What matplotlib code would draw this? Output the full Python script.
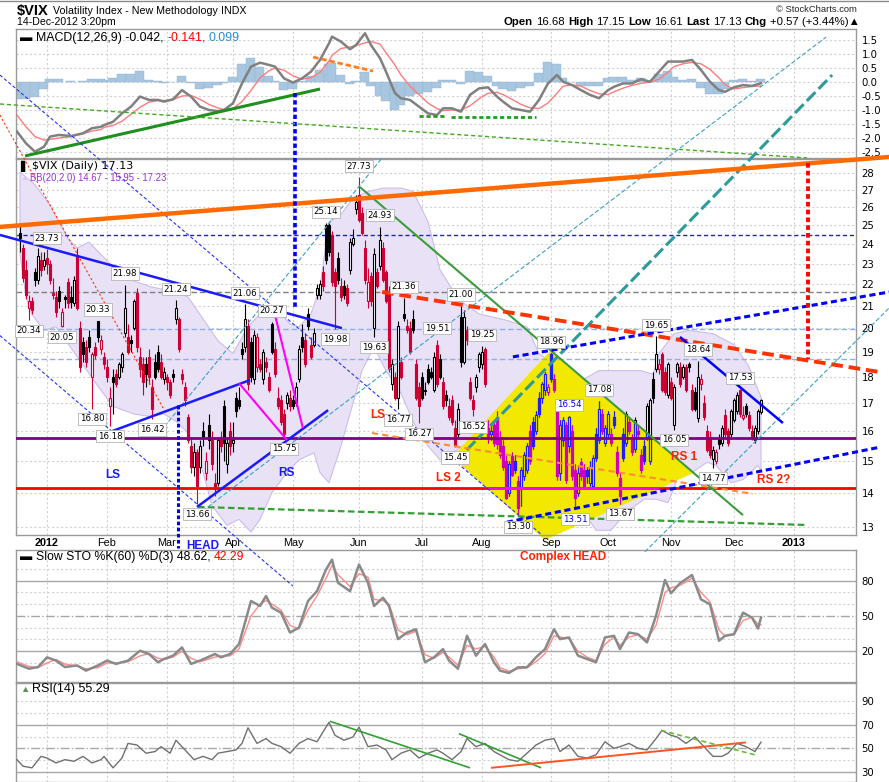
import numpy as np
import matplotlib
matplotlib.use("Agg")
import matplotlib.pyplot as plt
from matplotlib import font_manager
from matplotlib.patches import Polygon
from matplotlib.lines import Line2D
from matplotlib.ticker import NullLocator, NullFormatter

# ---------------- DATA ----------------
# trading-day index: 0 = 3 Jan 2012 ; -9 = 19 Dec 2011 ; 238 = 14 Dec 2012
first_day = -9
opens = [24.6, 23.8, 22.7, 20.9, 21.2, 22.6, 22.2, 23.2, 22.9, 23.3,
         23.0, 21.6, 21.4, 21.7, 20.1, 21.4, 22.1, 21.4, 21.1, 23.4,
         20.0, 19.4, 19.2, 19.6, 18.0, 19.2, 20.3, 19.1, 18.8, 18.4,
         16.9, 18.0, 18.1, 18.0, 18.4, 19.8, 19.6, 19.5, 20.0, 21.6,
         18.8, 18.5, 18.5, 18.8, 17.6, 18.6, 19.0, 18.6, 17.9, 18.0,
         17.8, 18.1, 20.4, 20.4, 18.1, 17.6, 16.5, 15.5, 14.8, 15.3,
         14.8, 16.0, 14.6, 16.2, 15.7, 14.3, 14.3, 15.8, 16.9, 14.9,
         16.0, 15.6, 17.2, 17.1, 19.1, 19.2, 20.1, 19.4, 17.9, 18.4,
         18.5, 17.9, 18.6, 18.0, 20.2, 19.1, 17.2, 17.1, 16.6, 17.0,
         17.2, 17.1, 17.0, 17.9, 19.6, 19.5, 20.6, 19.3, 19.3, 21.5,
         21.5, 22.6, 25.0, 25.0, 24.5, 22.6, 23.3, 21.9, 21.9, 21.8,
         22.7, 24.0, 25.9, 26.7, 25.7, 23.8, 21.2, 22.4, 20.0, 22.6,
         22.9, 23.8, 22.6, 21.7, 17.7, 18.0, 17.2, 18.6, 20.6, 20.1,
         20.0, 20.4, 18.5, 17.6, 18.0, 17.5, 18.3, 18.2, 17.5, 19.3,
         18.7, 17.8, 17.3, 16.9, 17.1, 16.1, 15.9, 20.5, 18.6, 19.9,
         17.8, 17.1, 17.6, 18.4, 18.5, 19.1, 16.1, 15.9, 16.2, 16.5,
         15.8, 15.5, 15.0, 14.0, 15.15, 15.0, 14.35, 14.1, 14.5, 14.7,
         16.0, 16.3, 16.0, 17.2, 17.2, 17.5, 17.4, 18.9, 17.9, 16.8,
         14.6, 15.7, 16.2, 15.5, 16.0, 14.7, 14.0, 14.95, 14.7, 14.7,
         14.3, 14.2, 15.9, 15.7, 16.6, 15.6, 15.9, 15.9, 16.5, 15.3,
         14.45, 15.9, 15.6, 16.3, 15.7, 15.4, 16.0, 15.2, 15.5, 15.8,
         15.0, 17.9, 18.3, 18.3, 18.9, 18.2, 17.3, 17.8, 16.2, 18.2,
         18.4, 18.0, 18.4, 18.5, 17.5, 17.4, 16.45, 17.7, 17.0, 16.0,
         15.8, 15.05, 15.0, 15.75, 15.6, 16.55, 16.0, 15.9, 16.4, 16.7,
         17.5, 16.45, 16.9, 16.55, 16.0, 15.7, 16.0, 16.68]
highs = [25.1, 24.0, 23.2, 21.5, 21.4, 22.8, 23.8, 23.6, 23.6, 23.73,
         23.2, 22.3, 21.7, 21.9, 20.9, 21.5, 22.3, 21.9, 22.4, 23.8,
         20.3, 19.6, 19.5, 19.9, 19.0, 19.4, 20.33, 19.7, 19.0, 18.7,
         17.6, 18.3, 18.3, 18.6, 19.0, 21.98, 20.2, 19.7, 21.3, 21.8,
         19.2, 18.8, 18.8, 19.1, 17.9, 18.9, 19.3, 18.9, 18.4, 18.1,
         17.9, 18.3, 21.24, 20.5, 18.3, 17.8, 16.6, 15.8, 15.6, 15.4,
         15.7, 16.3, 15.3, 16.6, 16.0, 14.6, 15.8, 16.0, 17.1, 15.8,
         16.3, 16.3, 17.4, 17.6, 19.4, 21.06, 20.4, 19.6, 19.9, 19.8,
         18.7, 19.1, 18.8, 18.2, 20.27, 19.4, 17.6, 17.3, 16.8, 17.4,
         17.5, 17.3, 17.8, 19.3, 20.2, 19.8, 20.9, 19.6, 20.0, 22.0,
         22.2, 22.9, 25.14, 25.1, 24.7, 22.8, 23.6, 22.3, 22.2, 22.0,
         24.3, 24.8, 26.7, 27.73, 26.0, 24.2, 22.8, 22.6, 23.8, 22.8,
         24.93, 24.1, 22.7, 21.9, 18.7, 18.2, 20.3, 18.8, 21.36, 20.4,
         20.3, 20.8, 18.7, 17.8, 18.2, 17.8, 18.5, 18.4, 19.0, 19.51,
         18.9, 18.0, 17.5, 17.2, 17.3, 16.4, 17.0, 21.0, 20.8, 20.1,
         18.0, 17.3, 18.1, 19.0, 19.25, 19.2, 16.4, 16.2, 16.4, 16.7,
         16.0, 15.7, 15.2, 15.0, 15.3, 15.2, 14.5, 14.8, 15.3, 15.6,
         16.2, 16.5, 16.7, 17.4, 17.8, 18.2, 17.7, 18.96, 18.1, 17.0,
         16.4, 16.5, 16.3, 16.54, 16.2, 14.9, 14.8, 15.1, 14.9, 14.8,
         15.0, 15.2, 16.1, 17.08, 16.8, 16.2, 16.7, 16.1, 16.7, 15.5,
         14.6, 16.1, 16.7, 16.5, 15.9, 16.5, 16.2, 15.4, 15.7, 17.0,
         17.2, 18.2, 19.65, 18.7, 19.0, 18.4, 18.6, 18.0, 17.7, 18.6,
         18.6, 18.5, 18.5, 18.6, 17.7, 17.6, 18.64, 18.1, 17.3, 16.2,
         16.0, 15.5, 15.4, 15.9, 16.2, 16.8, 16.1, 16.8, 17.2, 17.4,
         17.53, 16.9, 17.0, 16.7, 16.2, 16.2, 16.8, 17.15]
lows = [23.6, 22.1, 21.3, 20.34, 20.6, 21.9, 22.0, 22.4, 22.7, 22.5,
        22.0, 21.3, 20.5, 20.9, 20.05, 20.9, 20.9, 20.9, 21.0, 20.8,
        18.2, 18.6, 18.4, 19.0, 16.80, 18.7, 19.4, 18.9, 18.3, 17.8,
        16.18, 16.6, 17.6, 17.9, 18.2, 19.6, 18.9, 19.0, 19.9, 19.0,
        18.0, 17.3, 17.6, 17.7, 16.42, 17.9, 18.2, 17.9, 17.7, 17.5,
        17.2, 17.8, 20.2, 19.0, 17.7, 16.9, 15.6, 14.6, 14.5, 13.66,
        14.6, 15.5, 14.4, 15.4, 14.7, 13.9, 14.2, 15.3, 15.0, 14.6,
        15.2, 15.3, 16.5, 16.8, 18.7, 19.0, 17.5, 17.8, 17.7, 18.2,
        18.2, 17.7, 18.2, 17.4, 18.9, 18.0, 16.8, 16.2, 15.75, 16.8,
        16.7, 16.8, 16.9, 17.8, 19.0, 18.4, 19.9, 18.7, 19.2, 21.3,
        21.3, 21.7, 23.0, 23.4, 21.9, 19.98, 22.0, 21.2, 21.3, 21.0,
        22.5, 23.9, 25.6, 25.2, 24.5, 22.0, 20.9, 21.0, 19.63, 21.8,
        22.7, 22.1, 21.1, 18.2, 17.5, 17.1, 16.77, 17.9, 20.3, 19.8,
        18.9, 19.8, 17.1, 16.27, 17.1, 17.3, 17.7, 17.9, 17.4, 17.6,
        17.9, 16.8, 16.9, 16.4, 16.2, 15.45, 15.8, 18.4, 18.5, 19.3,
        17.1, 16.52, 17.4, 18.2, 18.3, 17.6, 15.6, 15.7, 15.5, 15.4,
        15.1, 14.7, 13.8, 13.9, 14.5, 14.6, 13.30, 13.6, 14.4, 14.6,
        14.9, 15.4, 15.9, 16.5, 17.0, 17.3, 17.3, 17.8, 17.4, 14.4,
        14.4, 15.5, 14.3, 15.3, 14.4, 13.51, 13.9, 14.4, 14.1, 14.3,
        14.2, 14.1, 15.0, 15.6, 15.9, 15.5, 15.8, 15.5, 16.1, 14.5,
        13.67, 15.0, 15.5, 15.9, 15.2, 15.3, 15.8, 14.6, 14.9, 15.7,
        14.9, 17.0, 18.2, 18.1, 17.4, 17.3, 17.2, 17.1, 16.05, 18.0,
        17.6, 17.9, 17.4, 18.2, 16.7, 16.7, 16.3, 17.5, 16.4, 15.3,
        15.1, 14.77, 14.9, 15.4, 15.5, 15.8, 15.5, 15.8, 16.3, 16.6,
        16.5, 16.4, 16.5, 16.0, 15.7, 15.6, 15.9, 16.61]
closes = [24.3, 22.3, 21.5, 21.2, 20.8, 22.2, 23.4, 22.7, 23.2, 22.97,
          22.2, 21.5, 20.7, 21.2, 20.7, 21.3, 21.1, 21.15, 22.2, 20.9,
          18.4, 18.9, 18.6, 19.2, 18.9, 18.85, 19.6, 19.5, 18.5, 18.0,
          17.2, 17.8, 17.7, 18.5, 18.9, 20.9, 19.0, 19.35, 21.2, 19.2,
          18.3, 17.8, 18.1, 18.0, 16.8, 18.0, 18.3, 18.0, 18.2, 17.8,
          17.3, 18.0, 20.9, 19.1, 17.9, 17.1, 15.7, 14.8, 15.3, 14.2,
          15.5, 15.75, 15.0, 15.7, 14.9, 14.1, 15.7, 15.5, 15.6, 15.6,
          15.5, 15.7, 16.7, 16.9, 18.9, 20.4, 17.7, 18.0, 19.7, 19.6,
          18.3, 19.0, 18.4, 17.5, 19.0, 18.1, 16.9, 16.3, 15.9, 17.3,
          16.9, 16.9, 17.6, 19.1, 19.2, 18.5, 20.1, 18.8, 19.8, 21.8,
          22.0, 21.9, 23.2, 23.6, 22.1, 21.9, 22.2, 21.4, 21.5, 21.1,
          24.1, 24.3, 26.3, 25.3, 24.6, 22.2, 22.1, 21.2, 23.5, 21.9,
          24.2, 22.2, 21.2, 18.3, 18.5, 17.2, 20.1, 18.0, 20.45, 19.9,
          19.0, 19.9, 17.2, 16.9, 17.2, 17.45, 17.8, 18.0, 18.8, 17.7,
          18.0, 16.9, 17.1, 16.5, 16.3, 15.5, 16.8, 18.6, 20.5, 19.5,
          17.2, 16.8, 18.0, 18.9, 19.0, 17.7, 15.75, 16.0, 15.6, 15.55,
          15.2, 14.8, 13.85, 14.9, 14.55, 14.7, 13.55, 14.7, 15.2, 15.5,
          15.0, 15.5, 16.55, 16.6, 17.7, 18.1, 17.6, 17.9, 17.5, 14.5,
          16.2, 16.4, 14.4, 16.5, 14.5, 13.85, 14.6, 14.5, 14.2, 14.5,
          14.8, 15.1, 15.1, 16.8, 16.0, 16.1, 16.6, 15.6, 16.2, 14.6,
          13.9, 15.1, 16.6, 16.0, 15.3, 16.4, 15.9, 14.7, 15.0, 16.9,
          17.1, 17.2, 18.9, 18.5, 17.5, 17.4, 18.5, 17.2, 17.6, 18.5,
          17.7, 18.4, 17.5, 18.4, 16.8, 16.8, 18.0, 17.9, 16.5, 15.35,
          15.2, 15.35, 15.3, 15.55, 16.1, 15.9, 15.6, 16.7, 17.1, 17.3,
          16.6, 16.55, 16.6, 16.1, 15.8, 16.1, 16.7, 17.13]

# Bollinger band (20,2) envelope
bb_up_days = [-9, -4, 1, 7, 10, 14, 21, 29, 35, 42, 47, 51, 57, 62, 67, 71, 77, 81, 84, 88,
              91, 94, 98, 102, 107, 112, 118, 122, 127, 131, 134, 138, 144, 153, 160, 164, 170, 178, 184, 191,
              198, 202, 204, 209, 214, 222, 229, 234, 237, 238]
bb_up = [28.06, 27.3, 26.1, 24.3, 23.8, 24.1, 23.0, 22.15, 21.86, 21.67, 21.4, 20.6, 19.46, 18.93, 20.06, 20.63, 20.77, 20.18, 20.06, 20.63,
         21.86, 25.2, 25.58, 26.54, 26.89, 27.1, 27.1, 26.9, 25.2, 22.7, 22.0, 21.2, 20.63, 20.35, 20.06, 18.93, 18.4, 17.85, 18.24, 18.24,
         18.24, 18.1, 18.93, 19.76, 19.9, 19.76, 19.3, 18.4, 17.5, 17.23]
bb_lo_days = [-9, -7, -5, -1, 3, 11, 17, 22, 29, 34, 39, 43, 47, 51, 55, 60, 64, 68, 71, 75,
              80, 84, 89, 91, 94, 98, 102, 105, 109, 113, 118, 122, 127, 131, 135, 142, 148, 152, 155, 160,
              164, 169, 173, 179, 183, 188, 193, 199, 203, 207, 211, 215, 220, 223, 228, 232, 237, 238]
bb_lo = [23.47, 21.4, 20.6, 19.9, 20.06, 18.64, 17.63, 16.88, 16.6, 16.52, 16.6, 16.34, 15.93, 14.98, 13.61, 13.04, 13.21, 12.85, 13.21, 14.0,
         14.62, 15.03, 15.26, 14.62, 14.3, 15.49, 17.0, 18.24, 19.2, 18.24, 17.37, 16.34, 15.49, 15.03, 15.26, 15.7, 15.49, 14.62, 13.61, 13.12,
         12.85, 13.21, 13.61, 13.4, 12.9, 12.9, 13.4, 13.8, 13.8, 13.7, 14.62, 14.62, 14.95, 14.85, 14.3, 14.4, 14.85, 14.67]

# MACD(12,26,9)
macd_days = [-10, -7, -4, -1, 1, 4, 8, 12, 15, 18, 19, 22, 25, 28, 31, 34, 37, 39, 42, 45,
             48, 51, 54, 57, 59, 62, 65, 68, 71, 74, 76, 79, 82, 85, 88, 91, 94, 95, 98, 101,
             103, 106, 108, 111, 113, 116, 118, 121, 124, 127, 130, 132, 135, 138, 141, 144, 147, 150, 152, 155,
             158, 161, 164, 167, 170, 172, 175, 178, 181, 184, 187, 189, 192, 195, 198, 201, 204, 207, 209, 212,
             215, 218, 221, 224, 226, 229, 232, 235, 238]
macd_line = [-1.77, -2.19, -2.49, -2.31, -1.95, -1.89, -1.93, -1.83, -1.65, -1.60,
             -1.54, -1.42, -1.12, -0.88, -0.52, -0.64, -0.64, -0.70, -0.62, -0.29,
             -0.52, -0.88, -1.00, -1.04, -1.00, -0.76, -0.05, 0.55, 0.69, 0.61,
             0.55, 0.13, -0.02, 0.13, 0.37, 0.79, 1.38, 1.62, 1.44, 1.17,
             1.32, 1.74, 1.32, 0.85, 0.37, -0.40, -0.58, -0.64, -0.88, -1.12,
             -1.18, -0.94, -0.94, -1.06, -0.46, -0.23, -0.19, -0.52, -0.70, -0.94,
             -1.00, -1.06, -0.64, -0.05, 0.25, 0.01, -0.11, -0.29, -0.46, -0.58,
             -0.29, -0.17, -0.05, -0.05, 0.10, 0.01, 0.37, 0.73, 0.73, 0.73,
             0.79, 0.43, 0.01, -0.29, -0.35, -0.19, -0.11, -0.14, -0.042]
macd_signal = [-1.18, -1.60, -1.95, -2.07, -2.05, -2.00, -1.95, -1.85, -1.75, -1.70,
               -1.62, -1.55, -1.40, -1.15, -0.90, -0.72, -0.66, -0.66, -0.63, -0.50,
               -0.48, -0.62, -0.80, -0.93, -0.98, -0.95, -0.70, -0.30, 0.15, 0.40,
               0.50, 0.42, 0.22, 0.10, 0.15, 0.35, 0.75, 0.95, 1.20, 1.25,
               1.30, 1.40, 1.45, 1.35, 1.05, 0.60, 0.25, -0.15, -0.45, -0.75,
               -0.95, -1.02, -1.00, -1.00, -0.85, -0.60, -0.40, -0.37, -0.45, -0.62,
               -0.80, -0.92, -0.95, -0.75, -0.40, -0.15, -0.10, -0.15, -0.30, -0.42,
               -0.45, -0.35, -0.22, -0.12, -0.05, 0.00, 0.10, 0.35, 0.55, 0.65,
               0.70, 0.65, 0.45, 0.15, -0.10, -0.25, -0.20, -0.16, -0.141]

# Slow STO %K(60) %D(3)
sto_days = [-10, -6, -3, 0, 3, 6, 10, 13, 17, 20, 23, 27, 31, 34, 37, 39, 42, 45, 48, 51,
            56, 58, 61, 64, 68, 71, 73, 75, 78, 81, 84, 87, 90, 93, 95, 97, 101, 104, 107, 109,
            112, 114, 117, 120, 123, 126, 129, 132, 134, 137, 140, 143, 146, 149, 151, 154, 157, 160, 163, 166,
            169, 171, 174, 177, 180, 183, 186, 189, 191, 194, 197, 200, 203, 206, 208, 211, 215, 218, 221, 224,
            226, 229, 232, 235, 237, 238]
sto_k = [9.2, 5.1, 6.5, 14.8, 12.0, 6.5, 7.9, 3.5, 7.9, 12.0, 9.2, 12.0, 20.4, 17.6, 10.6, 13.4, 16.2, 23.2, 9.2, 12.0,
         17.6, 14.8, 17.6, 26.1, 62.7, 58.5, 66.9, 57.0, 52.8, 35.9, 40.1, 62.7, 71.1, 89.4, 97.9, 78.2, 71.1, 93.7, 78.2, 58.5,
         65.5, 58.5, 30.3, 35.9, 38.7, 10.6, 14.8, 21.8, 12.0, 5.1, 33.1, 16.2, 26.1, 10.6, 3.5, 1.5, 6.3, 6.3, 14.8, 21.8,
         38.7, 30.3, 31.7, 16.2, 13.4, 10.6, 31.7, 33.1, 21.8, 35.9, 34.5, 27.5, 50.0, 80.6, 69.3, 77.8, 84.8, 64.1, 59.9, 28.9,
         33.1, 34.5, 52.8, 48.6, 39.3, 48.62]
sto_d = [11, 7, 6, 10, 13, 9, 7.5, 5, 6, 10, 10, 11, 16, 18, 14, 13, 15, 20, 14, 11,
         15, 16, 16, 22, 50, 60, 63, 60, 55, 42, 39, 55, 67, 82, 93, 85, 75, 86, 83, 64,
         63, 60, 38, 34, 37, 17, 14, 19, 15, 8, 25, 22, 24, 15, 6, 3, 5, 6, 11, 18,
         33, 32, 31, 20, 15, 12, 26, 32, 25, 32, 34, 30, 42, 70, 74, 76, 82, 70, 62, 38,
         33, 34, 46, 49, 43, 42.29]

# RSI(14)
rsi_days = [-10, -8, -5, -2, 0, 3, 6, 9, 12, 15, 18, 19, 22, 25, 27, 30, 33, 36, 38, 41,
            43, 46, 49, 52, 55, 57, 60, 63, 65, 67, 70, 73, 75, 78, 81, 84, 87, 90, 93, 94,
            96, 99, 102, 104, 107, 110, 113, 115, 118, 121, 124, 127, 130, 132, 135, 138, 140, 143, 146, 149,
            151, 154, 157, 160, 163, 166, 169, 171, 174, 177, 180, 183, 186, 189, 191, 194, 197, 200, 203, 205,
            208, 210, 213, 216, 219, 222, 225, 227, 230, 233, 236, 238]
rsi_vals = [40.3, 34.7, 33.3, 43.1, 41.7, 37.5, 40.3, 38.9, 43.1, 37.5, 40.3, 43.1, 33.3, 41.7, 54.2, 52.8, 45.8, 47.2, 51.4, 45.8,
            56.9, 48.6, 40.3, 43.1, 40.3, 45.8, 47.2, 48.6, 54.2, 67.5, 54.2, 58.3, 54.2, 51.4, 45.8, 54.2, 58.3, 55.6, 68.1, 72.2,
            61.1, 56.9, 59.7, 68.1, 51.4, 52.8, 48.6, 40.3, 45.8, 48.6, 41.7, 45.8, 48.6, 45.8, 40.3, 47.2, 58.3, 51.4, 54.2, 47.2,
            44.4, 40.3, 38.9, 45.8, 52.8, 56.9, 58.3, 47.2, 52.8, 43.1, 41.7, 44.4, 55.6, 50.0, 51.4, 54.2, 50.0, 48.6, 58.3, 65.3,
            61.1, 59.7, 54.2, 59.7, 51.4, 43.1, 43.1, 45.8, 54.2, 51.4, 47.2, 55.29]

# swing high / low value labels
label_days = [0, -6, 5, 26, 17, 43, 15, 21, 35, 50, 66, 75, 79, 96, 93, 104, 111, 109, 119,
              117, 124, 130, 138, 145, 142, 136, 168, 174, 184, 157, 176, 191, 203, 217, 209, 231, 222]
label_vals = [23.73, 20.34, 20.05, 21.98, 20.33, 21.24, 16.80, 16.18, 16.42, 13.66, 21.06, 20.27, 15.75, 19.98,
              25.14, 27.73, 24.93, 19.63, 21.36, 16.77, 16.27, 19.51, 21.00, 19.25, 16.52, 15.45, 18.96, 16.54,
              17.08, 13.30, 13.51, 13.67, 19.65, 18.64, 16.05, 17.53, 14.77]
label_high = [1, 0, 0, 1, 1, 1, 0, 0, 0, 0, 1, 1, 0, 0, 1, 1, 1, 0, 1,
              0, 0, 1, 1, 1, 0, 0, 1, 1, 1, 0, 0, 0, 1, 1, 0, 1, 0]

# horizontal levels drawn on the price panel
level_blue = 24.5
level_gray = 21.63
level_ltblue = [19.95, 18.72]
level_purple = 15.75
level_red = 14.14

# hand-drawn trend lines (day index, price)
orange_top = ([-15.7, 280.7], [24.91, 28.99])
neckline = ([-15.7, 98.3], [24.48, 20.0])
ls_rise = ([20.0, 67.7], [15.93, 17.87])
rs_rise = ([50.0, 93.7], [13.57, 16.74])
pink1 = ([64.0, 80.0], [17.75, 15.69])
pink2 = ([76.0, 85.3], [20.58, 16.10])
red_dash = ([111.7, 277.7], [21.63, 18.18])
green_fall = ([104.3, 232.0], [27.16, 13.33])
green_dash_hi = ([-15.7, 253.3], [32.52, 28.93])
green_dash_lo = ([50.3, 253.3], [13.57, 13.05])
blue_thin_a = ([-15.7, 165.0], [34.63, 12.77])
blue_thin_b = ([-15.7, 82.0], [19.68, 11.43])
red_thin = ([-15.7, 38.7], [31.75, 16.82])
teal_a = ([37.7, 111.7], [15.97, 28.93])
teal_b = ([50.0, 259.7], [13.33, 37.6])
teal_thick = ([136.0, 261.7], [14.96, 34.63])
teal_c = ([199.3, 280.7], [12.31, 20.89])
blue_dot_hi = ([155.3, 280.7], [18.79, 21.63])
blue_dot_lo = ([153.3, 277.7], [13.13, 15.45])
blue_fall = ([211.0, 245.3], [19.62, 16.28])
orange_dash = ([108.3, 235.3], [15.93, 13.96])
target_line = ([253.7, 253.7], [28.6, 18.7])
head_line = ([43.7, 43.7], [16.93, 12.41])
marker_day = 82.7
marker_price = [28.9, 20.9]
marker_macd = [-0.39, -2.72]
yellow_days = [135.0, 167.7, 215.3, 166.0]
yellow_prices = [15.12, 19.03, 14.6, 12.63]

macd_green = ([-7.3, 91.0], [-2.64, -0.25])
macd_orange = ([88.7, 108.7], [0.89, 0.39])
macd_dot1 = ([124.0, 133.0], [-1.21, -1.21])
macd_dot2 = ([134.7, 163.0], [-1.26, -1.26])

rsi_green1 = ([94.3, 141.0], [73.1, 33.3])
rsi_green2 = ([137.3, 164.7], [62.5, 33.3])
rsi_red = ([148.0, 233.0], [33.3, 55.0])
rsi_green_dash = ([204.7, 236.0], [65.3, 44.4])

month_days = [0, 20, 40, 62, 82, 104, 125, 145, 168, 187, 208, 229, 249]
month_names = ['2012', 'Feb', 'Mar', 'Apr', 'May', 'Jun', 'Jul', 'Aug', 'Sep', 'Oct', 'Nov', 'Dec', '2013']

# ---------------- FIGURE ----------------
names = {f.name for f in font_manager.fontManager.ttflist}
NARROW = 'Liberation Sans Narrow' if 'Liberation Sans Narrow' in names else 'Liberation Sans'
SANS = 'Liberation Sans' if 'Liberation Sans' in names else 'DejaVu Sans'
plt.rcParams['font.family'] = ['DejaVu Sans']

W, H = 889, 782
fig = plt.figure(figsize=(W / 100, H / 100), dpi=100)
fig.patch.set_facecolor('white')


def rect(top, bottom):
    return [16 / W, 1 - bottom / H, 840 / W, (bottom - top) / H]


ax_macd = fig.add_axes(rect(29, 158))
ax = fig.add_axes(rect(159, 535))
ax_sto = fig.add_axes(rect(550, 682))
ax_rsi = fig.add_axes(rect(683, 782))
ax.set_zorder(10)

XL = (-10.333, 269.667)
GRID = dict(color='#d2d2d2', ls=(0, (2, 2)), lw=0.8, zorder=0.5)
for a in (ax_macd, ax, ax_sto, ax_rsi):
    a.set_xlim(*XL)
    for s in a.spines.values():
        s.set_color('#9a9a9a')
        s.set_linewidth(1.0)
    for d in month_days:
        a.axvline(d, **GRID)
    a.yaxis.tick_right()
    a.tick_params(axis='both', length=0, labelsize=7.3, pad=4)
    if a is not ax:
        a.set_xticks([])

# ---- price panel ----
days = np.arange(first_day, first_day + len(closes))
o = np.array(opens); h = np.array(highs); lo = np.array(lows); c = np.array(closes)
prev = np.concatenate([[c[0]], c[:-1]])
up = c >= prev
hollow = c >= o
col = np.where(up, '#000000', '#cc0033')
face = np.where(hollow, '#ffffff', col)
bottoms = np.minimum(o, c)
heights = np.maximum(np.abs(c - o), 0.03)

ax.set_yscale('log')
ax.set_ylim(12.769, 28.863)

ax.fill(np.concatenate([bb_up_days, bb_lo_days[::-1]]),
        np.concatenate([bb_up, bb_lo[::-1]]),
        facecolor='#e9e1f6', edgecolor='#cdbdea', lw=0.8, zorder=1)

ypoly = Polygon(np.column_stack([yellow_days, yellow_prices]), closed=True,
                facecolor='#f2e800', edgecolor='none', zorder=1.2, clip_on=False)
ax.add_patch(ypoly)

for p in range(13, 29):
    ax.axhline(p, **GRID)

ax.axhline(level_blue, color='#1a1aff', ls=(0, (3, 2)), lw=1.0, zorder=2)
ax.axhline(level_gray, color='#808080', ls=(0, (4, 2)), lw=1.0, zorder=2)
for lv in level_ltblue:
    ax.axhline(lv, color='#8fb0f0', ls=(0, (4, 2)), lw=1.0, zorder=2)

BW = 0.85
ax.vlines(days, lo, h, colors=col, lw=0.8, zorder=3)
ax.bar(days, heights, bottom=bottoms, width=BW, color=face, edgecolor=col, linewidth=0.8, zorder=4)

coly = np.where(up, '#1f1fff', '#d000c0')
facey = np.where(hollow, '#f2e800', coly)
vl2 = ax.vlines(days, lo, h, colors=coly, lw=0.8, zorder=4.5)
vl2.set_clip_path(ypoly)
bars2 = ax.bar(days, heights, bottom=bottoms, width=BW, color=facey, edgecolor=coly, linewidth=0.8, zorder=4.6)
for b in bars2:
    b.set_clip_path(ypoly)

ax.axhline(level_purple, color='#800080', lw=2.0, zorder=5)
ax.axhline(level_red, color='#ff0000', lw=2.0, zorder=5)
mag = ax.axhline(level_red, color='#ff00ff', lw=2.0, zorder=5.1)
mag.set_clip_path(ypoly)


def tl(a, line, color, lw, ls='-', z=6):
    a.plot(line[0], line[1], color=color, lw=lw, ls=ls, zorder=z, clip_on=False,
           solid_capstyle='butt', dash_capstyle='butt')


tl(ax, blue_thin_a, '#2233ff', 0.8, (0, (3, 2)))
tl(ax, blue_thin_b, '#2233ff', 0.8, (0, (3, 2)))
tl(ax, red_thin, '#ff3300', 0.8, (0, (2, 2)))
tl(ax, green_dash_hi, '#44aa22', 1.0, (0, (3, 2)))
tl(ax, green_dash_lo, '#33a033', 1.6, (0, (3, 1.5)))
tl(ax, teal_a, '#3aa0c8', 0.8, (0, (4, 2)))
tl(ax, teal_b, '#3aa0c8', 0.8, (0, (4, 2)))
tl(ax, teal_c, '#3aa0c8', 0.8, (0, (4, 2)))
tl(ax, teal_thick, '#2f9a9a', 2.2, (0, (4, 1.5)))
tl(ax, orange_dash, '#ff8c33', 1.5, (0, (3, 2)))
tl(ax, green_fall, '#3c9c3c', 1.5)
tl(ax, orange_top, '#ff6a00', 3.2)
tl(ax, neckline, '#1a1aff', 1.8)
tl(ax, ls_rise, '#1a1aff', 1.8)
tl(ax, rs_rise, '#1a1aff', 1.8)
tl(ax, pink1, '#ff00ff', 1.5)
tl(ax, pink2, '#ff00ff', 1.5)
tl(ax, red_dash, '#ff3300', 2.8, (0, (3, 1.5)))
tl(ax, blue_dot_hi, '#0000ff', 2.2, (0, (2, 1.2)))
tl(ax, blue_dot_lo, '#0000ff', 2.2, (0, (2, 1.2)))
tl(ax, blue_fall, '#0000ff', 1.8)
tl(ax, target_line, '#ff0000', 2.8, (0, (1.2, 0.8)))
tl(ax, head_line, '#0000ff', 2.2, (0, (1.2, 0.8)))
tl(ax, ([marker_day, marker_day], marker_price), '#0000ff', 2.6, (0, (1.2, 0.8)))

for d, v, hi in zip(label_days, label_vals, label_high):
    tc = '#0000cc' if v in (16.54, 13.51) else '#000000'
    ax.annotate(f'{v:.2f}', xy=(d, v), xytext=(0, 8 if hi else -7.5), textcoords='offset points',
                ha='center', va='center', fontsize=6.2, color=tc, family='DejaVu Sans',
                bbox=dict(boxstyle='square,pad=0.18', fc='white', ec='#b4b4b4', lw=0.6),
                zorder=8, annotation_clip=False)

TXT = dict(fontweight='bold', fontsize=8.5, ha='center', va='center', zorder=9, family=[SANS, 'DejaVu Sans'])
ax.text(22, 14.54, 'LS', color='#1a1aff', **TXT)
ax.text(79.7, 14.6, 'RS', color='#1a1aff', **TXT)
ax.text(52, 12.46, 'HEAD', color='#1a1aff', clip_on=False, **TXT)
ax.text(110.3, 16.55, 'LS', color='#ff2200', **TXT)
ax.text(133.7, 14.46, 'LS 2', color='#ff2200', **TXT)
ax.text(212.3, 15.13, 'RS 1', color='#ff2200', **TXT)
ax.text(242.3, 14.4, 'RS 2?', color='#ff2200', **TXT)

ax.set_yticks(list(range(13, 29)))
ax.set_yticklabels([str(v) for v in range(13, 29)])
ax.yaxis.set_minor_locator(NullLocator())
ax.yaxis.set_minor_formatter(NullFormatter())
ax.set_xticks(month_days)
ax.set_xticklabels(month_names)
ax.tick_params(axis='x', pad=2.5, labelsize=7.8)
for t in ax.get_xticklabels():
    t.set_family([SANS, 'DejaVu Sans'])
    if t.get_text() in ('2012', '2013'):
        t.set_fontweight('bold')

# ---- MACD panel ----
md = np.array(macd_days, float)
hist = np.array(macd_line) - np.array(macd_signal)
ax_macd.set_ylim(-2.714, 1.893)
mt = [-2.5, -2.0, -1.5, -1.0, -0.5, 0.0, 0.5, 1.0, 1.5]
for v in mt:
    ax_macd.axhline(v, **GRID)
ax_macd.set_yticks(mt)
ax_macd.set_yticklabels([f'{v:.1f}' for v in mt])
ax_macd.bar(md, hist, width=3.0, color='#a8c6df', edgecolor='#93b6d5', linewidth=0.3, zorder=2)
ax_macd.plot(md, macd_signal, color='#ff7b7b', lw=1.0, zorder=3)
ax_macd.plot(md, macd_line, color='#808080', lw=1.8, zorder=4)
tl(ax_macd, macd_green, '#1f8f1f', 2.2)
tl(ax_macd, macd_orange, '#ff7f27', 2.0, (0, (2, 1)))
tl(ax_macd, macd_dot1, '#1f9f1f', 2.0, (0, (1.5, 1)))
tl(ax_macd, macd_dot2, '#1f9f1f', 2.0, (0, (1.5, 1)))
ax_macd.plot([marker_day, marker_day], marker_macd, color='#0000ff', lw=2.6, ls=(0, (1.2, 0.8)), zorder=6)

# ---- STO panel ----
ax_sto.set_ylim(-6.2, 106.1)
for v in (10, 30, 40, 60, 70, 90):
    ax_sto.axhline(v, **GRID)
for v in (20, 80):
    ax_sto.axhline(v, color='#a8a8a8', lw=1.0, zorder=0.6)
ax_sto.axhline(50, color='#a8a8a8', lw=1.0, ls='-.', zorder=0.6)
ax_sto.set_yticks([20, 50, 80])
ax_sto.set_yticklabels(['20', '50', '80'])
ax_sto.plot(sto_days, sto_d, color='#ff8a8a', lw=1.0, zorder=3)
ax_sto.plot(sto_days, sto_k, color='#8a8a8a', lw=1.8, zorder=4)
ax_sto.text(172, 100.2, 'Complex HEAD', color='#ff2200', fontweight='bold', fontsize=8.5,
            ha='center', va='center', family=[SANS, 'DejaVu Sans'], zorder=9)

# ---- RSI panel ----
ax_rsi.set_ylim(21.2, 105.8)
for v in (40, 60, 80, 90):
    ax_rsi.axhline(v, **GRID)
for v in (30, 70):
    ax_rsi.axhline(v, color='#a8a8a8', lw=1.0, zorder=0.6)
ax_rsi.axhline(50, color='#a8a8a8', lw=1.0, ls='-.', zorder=0.6)
ax_rsi.set_yticks([30, 50, 70, 90])
ax_rsi.set_yticklabels(['30', '50', '70', '90'])
ax_rsi.plot(rsi_days, rsi_vals, color='#707070', lw=1.0, zorder=3)
tl(ax_rsi, rsi_green1, '#33a033', 1.2)
tl(ax_rsi, rsi_green2, '#33a033', 1.2)
tl(ax_rsi, rsi_red, '#ff5522', 1.4)
tl(ax_rsi, rsi_green_dash, '#66bb33', 1.2, (0, (3, 2)))

for a in (ax_macd, ax, ax_sto, ax_rsi):
    for t in a.get_yticklabels():
        t.set_family('DejaVu Sans')

# ---------------- TEXT LINES ----------------
renderer = fig.canvas.get_renderer()


def rich_line(pieces, x_px, y_px, ha='left', target_w=None, family=None):
    fam = family or [NARROW, 'DejaVu Sans']
    arts = [fig.text(0, 0, s, fontsize=sz, color=cl, fontweight=wt, family=fam,
                     va='center', ha='left', zorder=20) for s, sz, cl, wt in pieces]

    def measure():
        return [a.get_window_extent(renderer).width for a in arts]

    ws = measure()
    gaps = [0.4 * a.get_fontsize() for a in arts[:-1]] + [0]
    if target_w:
        k = target_w / (sum(ws) + sum(gaps))
        for a in arts:
            a.set_fontsize(a.get_fontsize() * k)
        ws = measure()
        gaps = [0.4 * a.get_fontsize() for a in arts[:-1]] + [0]
    total = sum(ws) + sum(gaps)
    x = x_px if ha == 'left' else x_px - total
    for a, w, g in zip(arts, ws, gaps):
        a.set_position((x / W, 1 - y_px / H))
        x += w + g


K = '#000000'
rich_line([('$VIX', 11, K, 'bold'), ('Volatility Index - New Methodology', 8, K, 'normal'),
           ('INDX', 8, K, 'normal')], 17, 11, target_w=227)
rich_line([('\u00a9 StockCharts.com', 8, '#222222', 'normal')], 857, 10, ha='right', target_w=81)
rich_line([('14-Dec-2012 3:20pm', 8, K, 'normal')], 17, 22, target_w=99)
rich_line([('Open', 8, K, 'bold'), ('16.68', 8, K, 'normal'), ('High', 8, K, 'bold'), ('17.15', 8, K, 'normal'),
           ('Low', 8, K, 'bold'), ('16.61', 8, K, 'normal'), ('Last', 8, K, 'bold'), ('17.13', 8, K, 'normal'),
           ('Chg', 8, K, 'bold'), ('+0.57 (+3.44%)\u25b2', 8, K, 'normal')], 860, 22, ha='right', target_w=356)
rich_line([('\u25ac', 8, K, 'normal'), ('MACD(12,26,9) -0.042,', 8, K, 'normal'),
           ('-0.141,', 8, '#ff0000', 'normal'), ('0.099', 8, '#2b8fcf', 'normal')], 20, 38, target_w=221)
rich_line([('\u25ac', 8, K, 'normal'), ('Slow STO %K(60) %D(3) 48.62,', 8, K, 'normal'),
           ('42.29', 8, '#ff0000', 'normal')], 20, 557, target_w=224)
rich_line([('\u25b2', 6, '#5f8f5f', 'normal'), ('RSI(14) 55.29', 8, K, 'normal')], 20, 689, target_w=90)
rich_line([('\u258c', 7, K, 'normal'), ('$VIX (Daily) 17.13', 7, K, 'normal')], 20, 166,
          target_w=113, family=['DejaVu Sans'])
rich_line([('\u25b2', 6, '#d9c9f2', 'normal'), ('BB(20,2.0) 14.67 - 15.95 - 17.23', 7, '#9933cc', 'normal')],
          20, 178, target_w=147, family=[SANS, 'DejaVu Sans'])

fig.add_artist(Line2D([0, 1], [1 - 0.5 / H, 1 - 0.5 / H], color='#8a8a8a', lw=1.0))

fig.savefig('out.png', dpi=100, facecolor='white')
